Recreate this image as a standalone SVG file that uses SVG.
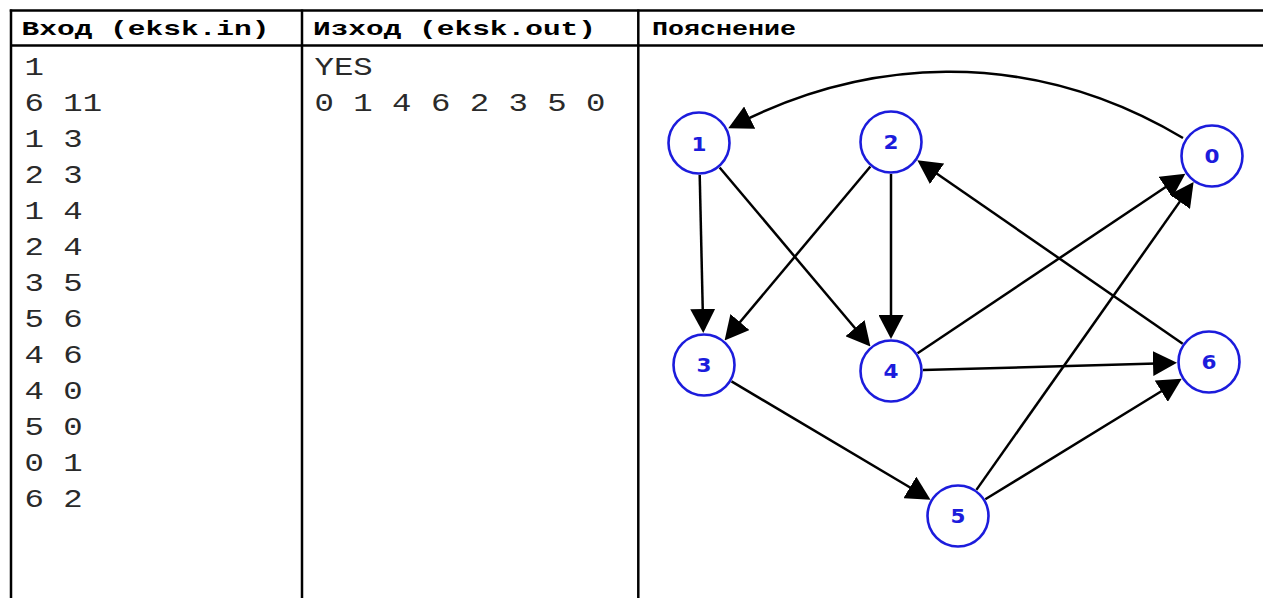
<svg xmlns="http://www.w3.org/2000/svg" width="1263" height="598" viewBox="0 0 1263 598">
  <style>
    .grid { stroke: #000; stroke-width: 2.5; fill: none; }
    .head { font-family: "Liberation Mono", "DejaVu Sans Mono", monospace; font-weight: bold; font-size: 21px; fill: #000; }
    .cell { font-family: "Liberation Mono", "DejaVu Sans Mono", monospace; font-size: 26px; fill: #2a2a2a; }
    .node circle { fill: #fff; stroke: #1c1cdc; stroke-width: 2.6; }
    .node text { font-family: "DejaVu Sans", Verdana, sans-serif; font-weight: bold; font-size: 19px; fill: #1c1cdc; text-anchor: middle; }
    .edge { stroke: #000; stroke-width: 2.5; fill: none; marker-end: url(#arrow); }
  </style>
  <defs>
    <marker id="arrow" markerUnits="userSpaceOnUse" markerWidth="24" markerHeight="25" refX="12" refY="12.5" orient="auto">
      <path d="M0,0 L24,12.5 L0,25 z" fill="#000"/>
    </marker>
  </defs>

  <rect width="1263" height="598" fill="#fff"/>

  <!-- table frame -->
  <g id="table">
    <line class="grid" x1="9.75" y1="10.5" x2="1263" y2="10.5"/>
    <line class="grid" x1="11" y1="45.5" x2="1263" y2="45.5"/>
    <line class="grid" x1="11" y1="9.5" x2="11" y2="598"/>
    <line class="grid" x1="302" y1="9.5" x2="302" y2="598"/>
    <line class="grid" x1="638.3" y1="9.5" x2="638.3" y2="598"/>
  </g>

  <!-- column headers -->
  <g id="headers">
    <text class="head" x="21.5" y="35" textLength="248" lengthAdjust="spacingAndGlyphs">Вход (eksk.in)</text>
    <text class="head" x="313" y="35" textLength="283" lengthAdjust="spacingAndGlyphs">Изход (eksk.out)</text>
    <text class="head" x="652" y="35" textLength="144" lengthAdjust="spacingAndGlyphs">Пояснение</text>
  </g>

  <!-- input file -->
  <g id="input">
    <text class="cell" x="24.5" y="75" textLength="19.4" lengthAdjust="spacingAndGlyphs">1</text>
    <text class="cell" x="24.5" y="111" textLength="77.6" lengthAdjust="spacingAndGlyphs">6 11</text>
    <text class="cell" x="24.5" y="147" textLength="58.2" lengthAdjust="spacingAndGlyphs">1 3</text>
    <text class="cell" x="24.5" y="183" textLength="58.2" lengthAdjust="spacingAndGlyphs">2 3</text>
    <text class="cell" x="24.5" y="219" textLength="58.2" lengthAdjust="spacingAndGlyphs">1 4</text>
    <text class="cell" x="24.5" y="255" textLength="58.2" lengthAdjust="spacingAndGlyphs">2 4</text>
    <text class="cell" x="24.5" y="291" textLength="58.2" lengthAdjust="spacingAndGlyphs">3 5</text>
    <text class="cell" x="24.5" y="327" textLength="58.2" lengthAdjust="spacingAndGlyphs">5 6</text>
    <text class="cell" x="24.5" y="363" textLength="58.2" lengthAdjust="spacingAndGlyphs">4 6</text>
    <text class="cell" x="24.5" y="399" textLength="58.2" lengthAdjust="spacingAndGlyphs">4 0</text>
    <text class="cell" x="24.5" y="435" textLength="58.2" lengthAdjust="spacingAndGlyphs">5 0</text>
    <text class="cell" x="24.5" y="471" textLength="58.2" lengthAdjust="spacingAndGlyphs">0 1</text>
    <text class="cell" x="24.5" y="507" textLength="58.2" lengthAdjust="spacingAndGlyphs">6 2</text>
  </g>

  <!-- output file -->
  <g id="output">
    <text class="cell" x="314.5" y="75" textLength="58.2" lengthAdjust="spacingAndGlyphs">YES</text>
    <text class="cell" x="314.5" y="111" textLength="291" lengthAdjust="spacingAndGlyphs">0 1 4 6 2 3 5 0</text>
  </g>

  <!-- directed edges of the graph -->
  <g id="edges">
    <path class="edge" d="M1183,138 C1022.2,42.4 860.6,62.1 739,123"/>
    <line class="edge" x1="699.7" y1="175" x2="703" y2="321"/>
    <line class="edge" x1="870.4" y1="166.5" x2="732.3" y2="331.3"/>
    <line class="edge" x1="719.6" y1="167.5" x2="862.7" y2="337.3"/>
    <line class="edge" x1="891" y1="174" x2="891" y2="327"/>
    <line class="edge" x1="731.5" y1="381.4" x2="920.2" y2="493.5"/>
    <line class="edge" x1="985.3" y1="499.3" x2="1171.5" y2="385"/>
    <line class="edge" x1="923" y1="370.1" x2="1165" y2="363.2"/>
    <line class="edge" x1="917.6" y1="353.2" x2="1175.4" y2="180.5"/>
    <line class="edge" x1="976.4" y1="489.9" x2="1186.7" y2="191.9"/>
    <line class="edge" x1="1182.7" y1="343.8" x2="927.2" y2="167"/>
  </g>

  <!-- vertices -->
  <g id="node-0" class="node"><circle cx="1212" cy="156" r="30.5"/><text x="1212" y="163" textLength="15" lengthAdjust="spacingAndGlyphs">0</text></g>
  <g id="node-1" class="node"><circle cx="699" cy="143" r="30.5"/><text x="699" y="151" textLength="15" lengthAdjust="spacingAndGlyphs">1</text></g>
  <g id="node-2" class="node"><circle cx="891" cy="142" r="30.5"/><text x="891" y="149" textLength="15" lengthAdjust="spacingAndGlyphs">2</text></g>
  <g id="node-3" class="node"><circle cx="704" cy="365" r="30.5"/><text x="704" y="372" textLength="15" lengthAdjust="spacingAndGlyphs">3</text></g>
  <g id="node-4" class="node"><circle cx="891" cy="371" r="30.5"/><text x="891" y="378" textLength="15" lengthAdjust="spacingAndGlyphs">4</text></g>
  <g id="node-5" class="node"><circle cx="958" cy="516" r="30.5"/><text x="958" y="523" textLength="15" lengthAdjust="spacingAndGlyphs">5</text></g>
  <g id="node-6" class="node"><circle cx="1209" cy="362" r="30.5"/><text x="1209" y="369" textLength="15" lengthAdjust="spacingAndGlyphs">6</text></g>
</svg>
